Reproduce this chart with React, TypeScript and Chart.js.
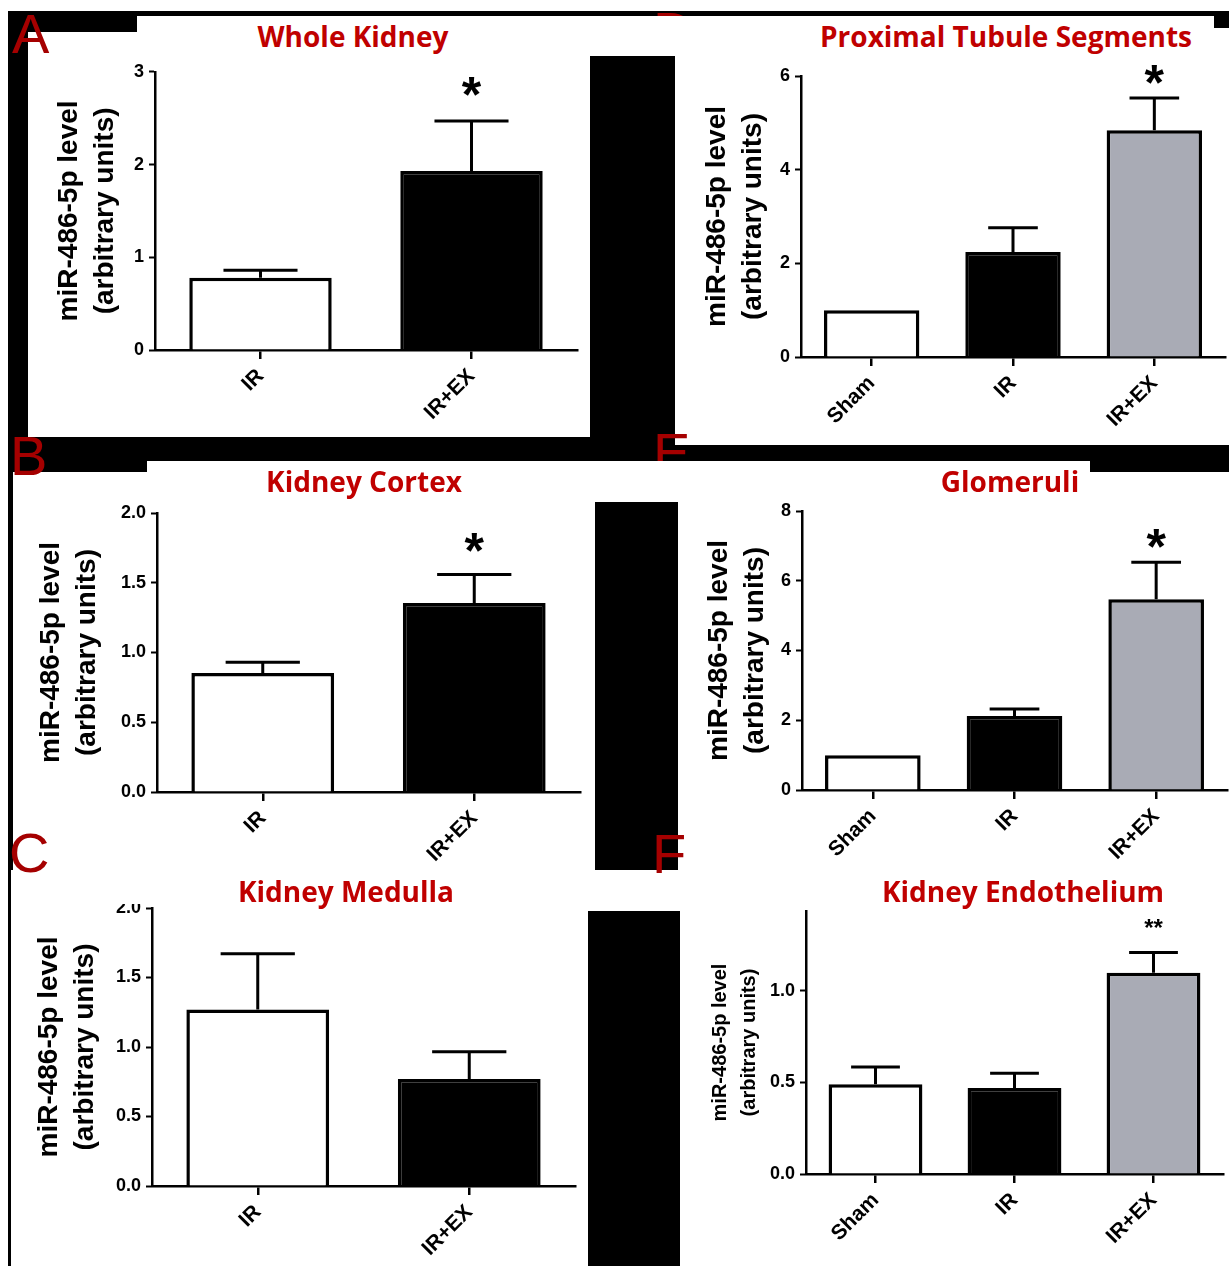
import React, { useEffect, useRef } from 'react';
import { Chart, registerables } from 'chart.js';

Chart.register(...registerables);

// ---------- data ----------
const twoGroups = ['IR', 'IR+EX'];
const threeGroups = ['Sham', 'IR', 'IR+EX'];

const wholeKidneyMean = [0.78, 1.93];
const wholeKidneySem = [0.08, 0.54];
const wholeKidneySig = ['', '*'];

const proximalMean = [1.0, 2.24, 4.84];
const proximalSem = [0, 0.52, 0.69];
const proximalSig = ['', '', '*'];

const cortexMean = [0.853, 1.355];
const cortexSem = [0.077, 0.205];
const cortexSig = ['', '*'];

const glomeruliMean = [1.0, 2.12, 5.47];
const glomeruliSem = [0, 0.2, 1.06];
const glomeruliSig = ['', '', '*'];

const medullaMean = [1.27, 0.77];
const medullaSem = [0.4, 0.196];
const medullaSig = ['', ''];

const endotheliumMean = [0.49, 0.47, 1.1];
const endotheliumSem = [0.095, 0.08, 0.11];
const endotheliumSig = ['', '', '**'];

const yTitleLines = ['miR-486-5p level', '(arbitrary units)'];

const twoColors = ['#ffffff', '#000000'];
const threeColors = ['#ffffff', '#000000', '#a9abb5'];

const FONT = '"Liberation Sans", Arial, Helvetica, sans-serif';
const TITLE_FONT = '"Open Sans", "Noto Sans", sans-serif';
const TITLE_RED = '#c00000';
const LETTER_RED = '#a50000';

type PanelProps = {
  x: number; y: number; w: number; h: number;
  yW: number; xH: number; padT: number; padR: number;
  labels: string[]; means: number[]; sem: number[]; sig: string[];
  colors: string[];
  yMax: number; step: number; decimals: number;
  titleSize: number; titleLH: number; titlePad: number;
  starSize: number; starGap: number;
};

function BarPanel(p: PanelProps) {
  const ref = useRef<HTMLCanvasElement>(null);
  useEffect(() => {
    const errorPlugin = {
      id: 'errorBarsAndStars',
      afterDatasetsDraw(chart: any) {
        const { ctx } = chart;
        const meta = chart.getDatasetMeta(0);
        const yScale = chart.scales.y;
        ctx.save();
        ctx.strokeStyle = '#000';
        ctx.lineWidth = 3;
        ctx.lineCap = 'butt';
        meta.data.forEach((bar: any, i: number) => {
          const mean = p.means[i];
          const top = mean + p.sem[i];
          const yTop = yScale.getPixelForValue(top);
          const yBar = yScale.getPixelForValue(mean);
          const half = (bar.width * 0.52) / 2;
          if (p.sem[i] > 0) {
            ctx.beginPath();
            ctx.moveTo(bar.x, yBar);
            ctx.lineTo(bar.x, yTop);
            ctx.moveTo(bar.x - half, yTop);
            ctx.lineTo(bar.x + half, yTop);
            ctx.stroke();
          }
          if (p.sig[i]) {
            ctx.fillStyle = '#000';
            ctx.font = `bold ${p.starSize}px ${FONT}`;
            ctx.textAlign = 'center';
            ctx.textBaseline = 'alphabetic';
            const cy = yTop - p.starGap;
            ctx.fillText(p.sig[i], bar.x, cy + 0.45 * p.starSize);
          }
        });
        ctx.restore();
      },
    };

    const chart = new Chart(ref.current as HTMLCanvasElement, {
      type: 'bar',
      data: {
        labels: p.labels,
        datasets: [
          {
            data: p.means,
            backgroundColor: p.colors,
            borderColor: '#000',
            borderWidth: 3.5,
            barPercentage: 0.675,
            categoryPercentage: 1,
          },
        ],
      },
      options: {
        responsive: false,
        animation: false,
        devicePixelRatio: 1,
        layout: { padding: { top: p.padT, right: p.padR, left: 0, bottom: 0 } },
        plugins: {
          legend: { display: false },
          tooltip: { enabled: false },
          title: { display: false },
        },
        scales: {
          x: {
            grid: {
              display: true,
              drawOnChartArea: false,
              drawTicks: true,
              tickLength: 9,
              tickWidth: 2.5,
              tickColor: '#000',
              offset: false,
              color: '#000',
              lineWidth: 2.5,
            },
            border: { display: true, color: '#000', width: 2.5 },
            ticks: {
              color: '#000',
              font: { family: FONT, size: 21, weight: 'bold' },
              minRotation: 45,
              maxRotation: 45,
              autoSkip: false,
              padding: 5,
            },
            afterFit: (s: any) => {
              s.height = p.xH;
            },
          },
          y: {
            min: 0,
            max: p.yMax,
            bounds: 'data',
            ticks: {
              stepSize: p.step,
              includeBounds: false,
              color: '#000',
              font: { family: FONT, size: 18, weight: 'bold' },
              padding: 5,
              callback: (v: any) => Number(v).toFixed(p.decimals),
            },
            grid: {
              drawOnChartArea: false,
              drawTicks: true,
              tickLength: 6,
              tickWidth: 2,
              tickColor: '#000',
              color: '#000',
            },
            border: { display: true, color: '#000', width: 2.5 },
            title: {
              display: true,
              text: yTitleLines,
              color: '#000',
              font: { family: FONT, size: p.titleSize, weight: 'bold', lineHeight: p.titleLH },
              padding: { top: p.titlePad, bottom: 0 },
            },
            afterFit: (s: any) => {
              s.width = p.yW;
            },
          },
        },
      } as any,
      plugins: [errorPlugin],
    });
    return () => chart.destroy();
  }, []);
  return (
    <canvas
      ref={ref}
      width={p.w}
      height={p.h}
      style={{ position: 'absolute', left: p.x, top: p.y, width: p.w, height: p.h }}
    />
  );
}

const rect = (x1: number, y1: number, x2: number, y2: number, color: string, key: string, z = 0) => (
  <div
    key={key}
    style={{ position: 'absolute', left: x1, top: y1, width: x2 - x1, height: y2 - y1, background: color, zIndex: z }}
  />
);

function Title({ text, cx, capTop }: { text: string; cx: number; capTop: number }) {
  return (
    <div
      style={{
        position: 'absolute',
        left: cx - 300,
        width: 600,
        top: capTop - 5,
        height: 30,
        lineHeight: '28px',
        fontSize: 28,
        fontFamily: TITLE_FONT,
        fontWeight: 700,
        color: TITLE_RED,
        textAlign: 'center',
        whiteSpace: 'nowrap',
        zIndex: 5,
      }}
    >
      {text}
    </div>
  );
}

function Letter({ ch, left, top }: { ch: string; left: number; top: number }) {
  return (
    <div
      style={{
        position: 'absolute',
        left,
        top,
        fontFamily: FONT,
        fontSize: 56,
        lineHeight: '56px',
        color: LETTER_RED,
        zIndex: 6,
      }}
    >
      {ch}
    </div>
  );
}

function ClippedLetter({ ch, box, left, top }: { ch: string; box: number[]; left: number; top: number }) {
  return (
    <div
      style={{
        position: 'absolute',
        left: box[0],
        top: box[1],
        width: box[2],
        height: box[3],
        overflow: 'hidden',
        zIndex: 2,
      }}
    >
      <div
        style={{
          position: 'absolute',
          left: left - box[0],
          top: top - box[1],
          fontFamily: FONT,
          fontSize: 56,
          lineHeight: '56px',
          color: LETTER_RED,
        }}
      >
        {ch}
      </div>
    </div>
  );
}

export default function App() {
  useEffect(() => {
    document.body.style.margin = '0';
  }, []);
  return (
    <div
      style={{
        position: 'absolute',
        left: 0,
        top: 0,
        width: 1229,
        height: 1266,
        background: '#fff',
        overflow: 'hidden',
      }}
    >
      {rect(8, 11, 1229, 1266, '#000', 'bg', 0)}
      {/* white panel backgrounds */}
      {rect(28, 32, 590, 437, '#fff', 'w1', 1)}
      {rect(137, 16, 1214, 56, '#fff', 'w2a', 1)}
      {rect(1214, 28, 1229, 56, '#fff', 'w2b', 1)}
      {rect(675, 56, 1229, 445, '#fff', 'w3', 1)}
      {rect(13, 472, 595, 870, '#fff', 'w4', 1)}
      {rect(147, 461, 1090, 502, '#fff', 'w5', 1)}
      {rect(678, 472, 1229, 870, '#fff', 'w6', 1)}
      {rect(11, 870, 1229, 911, '#fff', 'w7', 1)}
      {rect(11, 911, 588, 1266, '#fff', 'w8', 1)}
      {rect(680, 911, 1229, 1266, '#fff', 'w9', 1)}

      <ClippedLetter ch="D" box={[650, 11, 50, 5]} left={653} top={4} />
      <ClippedLetter ch="E" box={[650, 420, 50, 41]} left={653} top={425} />

      <div style={{ position: 'absolute', left: 0, top: 0, width: 1229, height: 1266, zIndex: 3 }}>
        <BarPanel
          x={40} y={56} w={545} h={381} yW={115} xH={87} padT={15} padR={8}
          labels={twoGroups} means={wholeKidneyMean} sem={wholeKidneySem} sig={wholeKidneySig}
          colors={twoColors} yMax={3} step={1} decimals={0}
          titleSize={28} titleLH={1.3} titlePad={11} starSize={50} starGap={31}
        />
        <BarPanel
          x={690} y={56} w={539} h={389} yW={111} xH={88} padT={20} padR={4}
          labels={threeGroups} means={proximalMean} sem={proximalSem} sig={proximalSig}
          colors={threeColors} yMax={6} step={2} decimals={0}
          titleSize={28} titleLH={1.3} titlePad={9} starSize={50} starGap={21}
        />
        <BarPanel
          x={30} y={495} w={560} h={375} yW={127} xH={78} padT={18} padR={10}
          labels={twoGroups} means={cortexMean} sem={cortexSem} sig={cortexSig}
          colors={twoColors} yMax={2} step={0.5} decimals={1}
          titleSize={28} titleLH={1.3} titlePad={3} starSize={50} starGap={29}
        />
        <BarPanel
          x={690} y={495} w={539} h={375} yW={112} xH={80} padT={16} padR={2}
          labels={threeGroups} means={glomeruliMean} sem={glomeruliSem} sig={glomeruliSig}
          colors={threeColors} yMax={8} step={2} decimals={0}
          titleSize={28} titleLH={1.3} titlePad={11} starSize={50} starGap={21}
        />
        <BarPanel
          x={25} y={880} w={560} h={386} yW={127} xH={80} padT={28} padR={10}
          labels={twoGroups} means={medullaMean} sem={medullaSem} sig={medullaSig}
          colors={twoColors} yMax={2} step={0.5} decimals={1}
          titleSize={28} titleLH={1.3} titlePad={6} starSize={50} starGap={29}
        />
        <BarPanel
          x={695} y={880} w={534} h={386} yW={111} xH={92} padT={31} padR={6}
          labels={threeGroups} means={endotheliumMean} sem={endotheliumSem} sig={endotheliumSig}
          colors={threeColors} yMax={1.437} step={0.5} decimals={1}
          titleSize={20} titleLH={1.45} titlePad={11} starSize={24} starGap={27}
        />
      </div>

      {/* cover for the clipped top tick label of the medulla panel */}
      {rect(90, 880, 230, 904, '#fff', 'coverC', 4)}

      <Title text="Whole Kidney" cx={353} capTop={27} />
      <Title text="Proximal Tubule Segments" cx={1006} capTop={27} />
      <Title text="Kidney Cortex" cx={364} capTop={472} />
      <Title text="Glomeruli" cx={1010} capTop={472} />
      <Title text="Kidney Medulla" cx={346} capTop={882} />
      <Title text="Kidney Endothelium" cx={1023} capTop={882} />

      <Letter ch="A" left={12} top={6} />
      <Letter ch="B" left={10} top={428} />
      <Letter ch="C" left={9} top={825} />
      <Letter ch="F" left={652} top={826} />
    </div>
  );
}
